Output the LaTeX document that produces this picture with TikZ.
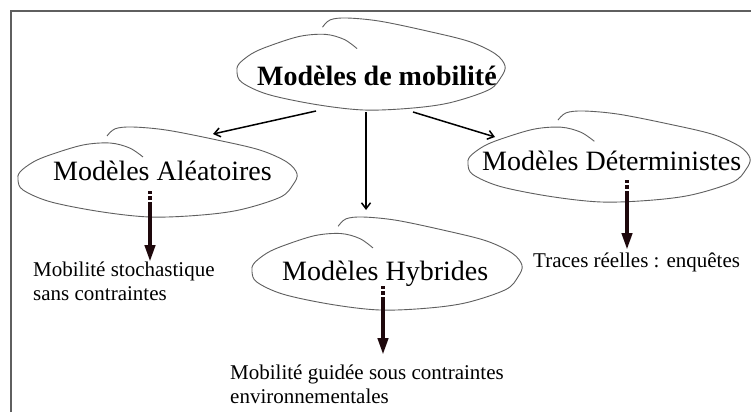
\documentclass[tikz,border=0pt]{standalone}
\usepackage{fontspec}
\setmainfont{Liberation Serif}
\usetikzlibrary{arrows.meta}
\definecolor{cloudgray}{RGB}{95,95,95}
\definecolor{framegray}{RGB}{95,95,95}
\definecolor{darkarrow}{RGB}{30,8,12}
\newcommand{\drawcloud}[4]{%
  \begin{scope}[shift={(#1,#2)},xscale=#3,yscale=#4]
    \draw[cloudline] plot[smooth,tension=0.55] coordinates {
      (0.319,0.10) (0.348,0.02) (0.41,0) (0.534,0.035) (0.713,0.144)
      (0.867,0.256) (0.964,0.39) (1,0.52) (0.986,0.64) (0.94,0.78)
      (0.796,0.92) (0.65,0.98) (0.473,1) (0.294,0.94) (0.115,0.83)
      (0.018,0.70) (0,0.59) (0.007,0.50) (0.054,0.39) (0.115,0.31)
      (0.233,0.20) (0.33,0.178) (0.40,0.233) (0.448,0.333)};
  \end{scope}}
\begin{document}
\begin{tikzpicture}[x=1pt,y=-1pt,
  cloudline/.style={draw=cloudgray,line width=0.9pt},
  bigtxt/.style={inner sep=0pt,anchor=base west,font=\fontsize{28}{32}\selectfont},
  smalltxt/.style={inner sep=0pt,anchor=base west,align=left,font=\fontsize{21}{23.5}\selectfont},
  thinarrow/.style={line width=1.5pt,-{Straight Barb[length=6pt,width=9pt]}},
  thickarrow/.style={draw=darkarrow,line width=4pt,-{Triangle[length=17pt,width=10pt]}},
  dashbit/.style={fill=darkarrow}]
\useasboundingbox (0,0) rectangle (751,412);
\fill[white] (0,0) rectangle (751,412);
% frame
\draw[framegray,line width=1.6pt] (11,412) -- (11,11) -- (751,11);
% clouds
\drawcloud{237}{18}{268}{92}
\drawcloud{18}{127}{279}{90}
\drawcloud{252}{217}{270}{93}
\drawcloud{468}{111}{282}{91}
% texts
\node[bigtxt,font=\fontsize{28}{32}\selectfont\bfseries] (main) at (257,85) {Modèles de mobilité};
\node[bigtxt] (alea) at (53,180) {Modèles Aléatoires};
\node[bigtxt] (hyb) at (282,280) {Modèles Hybrides};
\node[bigtxt] (det) at (482,170) {Modèles Déterministes};
\node[smalltxt] (t1) at (33,300) {Mobilité stochastique\\sans contraintes};
\node[smalltxt] (t2) at (230,403) {Mobilité guidée sous contraintes\\environnementales};
\node[smalltxt] (t3) at (533,267) {Traces réelles : enquêtes};
% arrows from main
\coordinate (m1) at (316,111);
\coordinate (m2) at (366,112);
\coordinate (m3) at (413,112);
\coordinate (e1) at (213,134);
\coordinate (e2) at (366,210);
\coordinate (e3) at (495,137);
\draw[thinarrow] (m1) -- (e1);
\draw[thinarrow] (m2) -- (e2);
\draw[thinarrow] (m3) -- (e3);
% thick down arrows
\fill[dashbit] (148,191) rectangle (152,194);
\fill[dashbit] (148,196) rectangle (152,200);
\coordinate (d1s) at (150,202);
\coordinate (d1e) at (150,262);
\draw[thickarrow] (d1s) -- (d1e);
\fill[dashbit] (381,286) rectangle (385,289);
\fill[dashbit] (381,291) rectangle (385,295);
\coordinate (d2s) at (383,297);
\coordinate (d2e) at (383,355);
\draw[thickarrow] (d2s) -- (d2e);
\fill[dashbit] (625,180) rectangle (629,183);
\fill[dashbit] (625,185) rectangle (629,189);
\coordinate (d3s) at (627,191);
\coordinate (d3e) at (627,250);
\draw[thickarrow] (d3s) -- (d3e);
\end{tikzpicture}
\end{document}
